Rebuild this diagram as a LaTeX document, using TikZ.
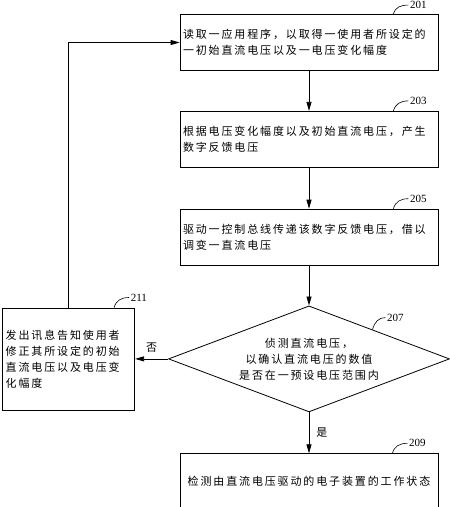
\documentclass[tikz,border=0pt]{standalone}
\usepackage{fontspec}
\setmainfont{Liberation Serif}
\newfontfamily\cjk[LetterSpace=17]{Noto Sans CJK SC}
\usepackage{tikz}
\usetikzlibrary{arrows.meta,positioning,shapes.geometric,calc}
\tikzset{
  stepbox/.style={
    rectangle, draw=black, line width=0.8pt,
    text width=252pt, minimum height=56pt,
    font=\cjk\fontsize{11}{16}\selectfont, align=#1,
    inner sep=3pt
  },
  stepbox/.default=left,
  sidebox/.style={
    rectangle, draw=black, line width=0.8pt,
    text width=126pt, minimum height=102pt,
    font=\cjk\fontsize{11}{16}\selectfont, align=left,
    inner sep=3pt
  },
  decisionbox/.style={
    diamond, draw=black, line width=0.8pt, aspect=2.65,
    minimum width=281pt, minimum height=106pt, inner sep=0pt,
    font=\cjk\fontsize{11}{16}\selectfont, align=center
  },
  flowarrow/.style={
    -{Triangle[length=9pt,width=5pt]}, line width=0.8pt, color=black
  },
  reflabel/.style={
    font=\fontsize{11}{12}\selectfont, anchor=west, inner sep=1.5pt
  },
  refhook/.style={line width=0.6pt},
  answer/.style={font=\cjk\fontsize{11}{12}\selectfont, inner sep=1pt},
}
\begin{document}
\begin{tikzpicture}[x=1pt,y=1pt]
    \useasboundingbox (0,0) rectangle (450,-507);

    % MAIN COLUMN
    \node[stepbox] (read) at (309,-42.5) {%
        读取一应用程序，以取得一使用者所设定的\\一初始直流电压以及一电压变化幅度};
    \node[stepbox, below=40pt of read] (feedback) {%
        根据电压变化幅度以及初始直流电压，产生\\数字反馈电压};
    \node[stepbox, below=41pt of feedback] (drive) {%
        驱动一控制总线传递该数字反馈电压，借以\\调变一直流电压};
    \node[decisionbox, below=40pt of drive] (check) {%
        侦测直流电压，\\以确认直流电压的数值\\是否在一预设电压范围内};
    \node[stepbox=center, below=41pt of check] (state) {%
        检测由直流电压驱动的电子装置的工作状态};

    % SIDE BOX
    \node[sidebox, left=33pt of check] (notify) {%
        发出讯息告知使用者\\修正其所设定的初始\\直流电压以及电压变\\化幅度};

    % Arrows
    \draw[flowarrow] (read) -- (feedback);
    \draw[flowarrow] (feedback) -- (drive);
    \draw[flowarrow] (drive) -- (check);
    \draw[flowarrow] (check.south) -- node[answer, right=6pt] {是} (check.south |- state.north);
    \draw[flowarrow] (check.west) -- node[answer, above=5pt] {否} (notify.east);
    \draw[flowarrow] (notify.north) |- (read.west);

    % Reference numbers
    \draw[refhook] ([xshift=-45pt]read.north east)
        .. controls +(2pt,7pt) and +(-8pt,0pt) .. ([shift={(-30pt,9pt)}]read.north east)
        node[reflabel] {201};
    \draw[refhook] ([xshift=-45pt]feedback.north east)
        .. controls +(2pt,7pt) and +(-8pt,0pt) .. ([shift={(-30pt,10pt)}]feedback.north east)
        node[reflabel] {203};
    \draw[refhook] ([xshift=-45pt]drive.north east)
        .. controls +(2pt,7pt) and +(-8pt,0pt) .. ([shift={(-30pt,10pt)}]drive.north east)
        node[reflabel] {205};
    \draw[refhook] ([xshift=-46pt]state.north east)
        .. controls +(2pt,7pt) and +(-8pt,0pt) .. ([shift={(-31pt,10pt)}]state.north east)
        node[reflabel] {209};
    \draw[refhook] ([xshift=-21pt]notify.north east)
        .. controls +(2pt,7pt) and +(-8pt,0pt) .. ([shift={(-6pt,10pt)}]notify.north east)
        node[reflabel] {211};
    \coordinate (hook207) at ($(check.north)!0.45!(check.east)$);
    \draw[refhook] (hook207)
        .. controls +(2pt,7pt) and +(-7pt,0pt) .. ([shift={(13pt,12pt)}]hook207)
        node[reflabel] {207};
\end{tikzpicture}
\end{document}
